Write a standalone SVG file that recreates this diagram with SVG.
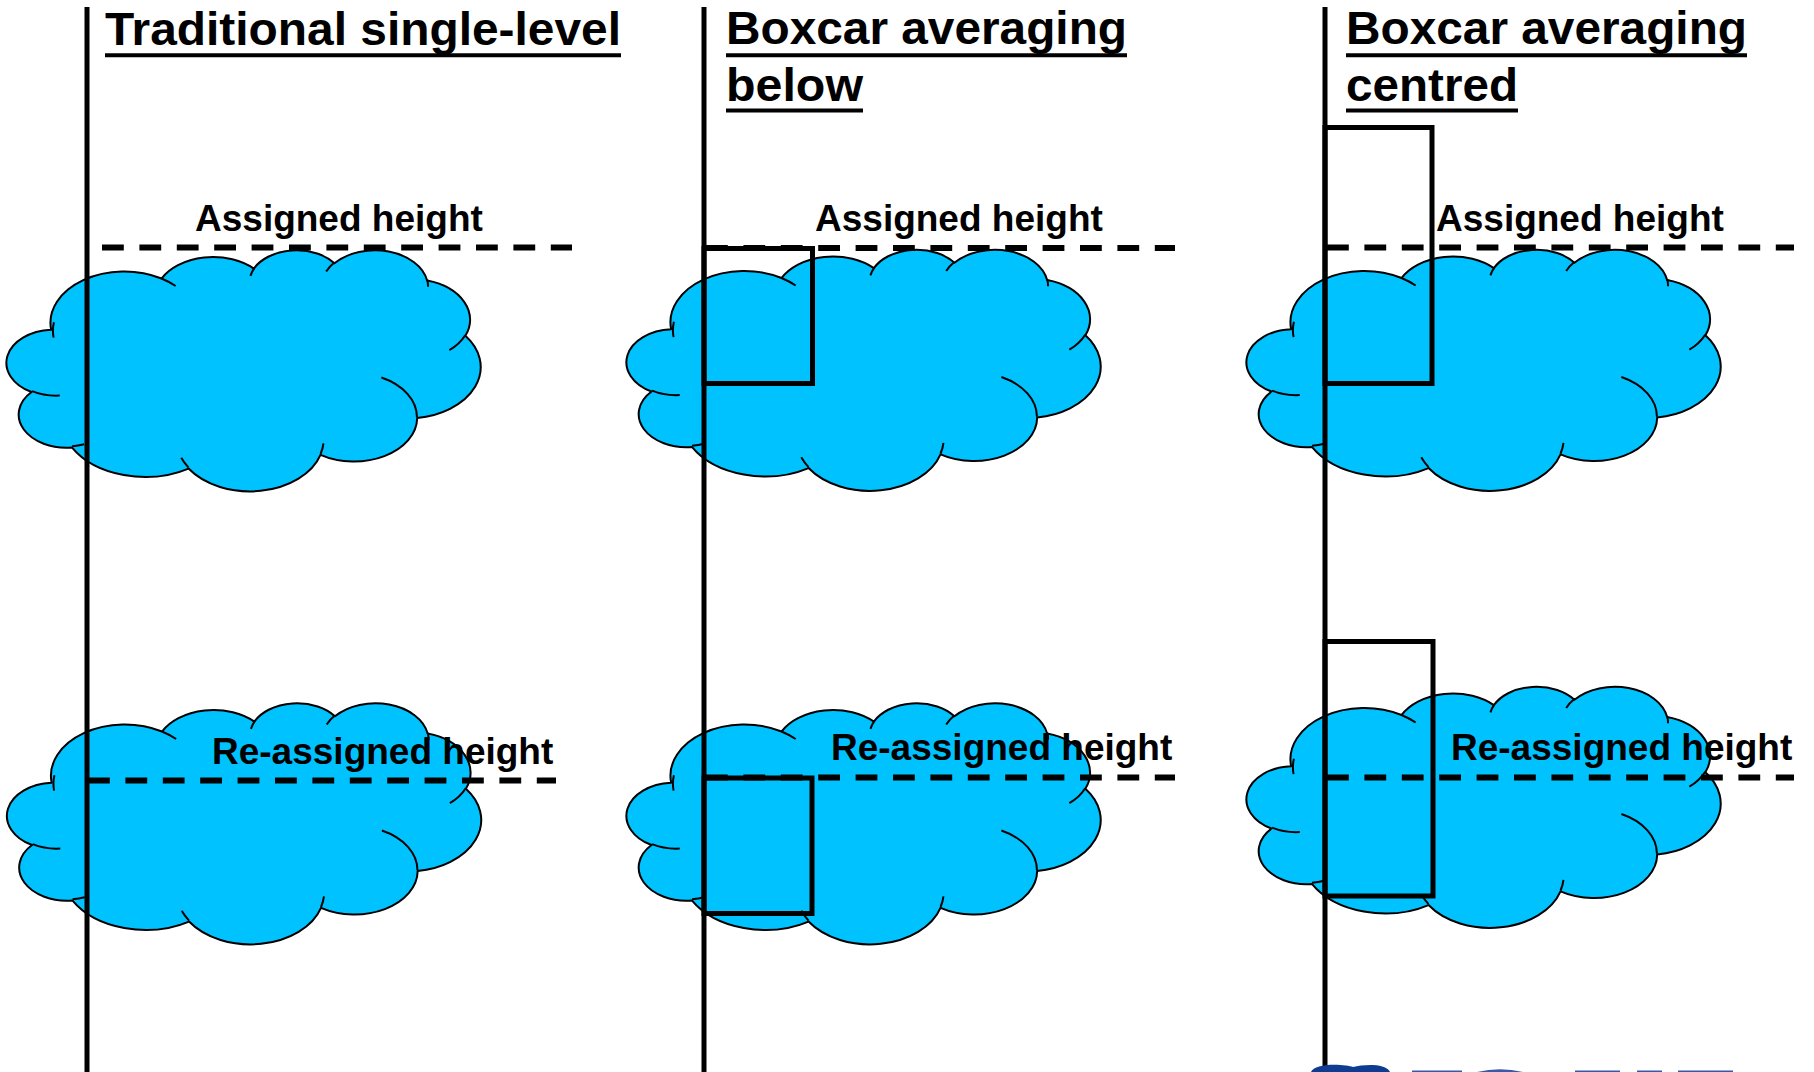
<svg xmlns="http://www.w3.org/2000/svg" width="1814" height="1072" viewBox="0 0 1814 1072">
<style>
  .cloud{fill:#00c2ff;stroke:#000;stroke-width:2;stroke-linejoin:round}
  .crease{fill:none;stroke:#000;stroke-width:2}
  .axis{stroke:#000;stroke-width:5}
  .level{stroke:#000;stroke-width:6;stroke-dasharray:21.8 15.6}
  .box{fill:none;stroke:#000;stroke-width:5}
  .title{font-family:"Liberation Sans",Arial,Helvetica,sans-serif;font-weight:bold;font-size:47px;fill:#000}
  .label{font-family:"Liberation Sans",Arial,Helvetica,sans-serif;font-weight:bold;font-size:37px;fill:#000}
  .rule{stroke:#000;stroke-width:4}
</style>
<defs>
  <!-- cloud outline built from eleven elliptical lobes, plus the short inner crease arcs -->
  <g id="cloud">
    <path class="cloud" d="M42.61 80.17 A73.78 51.27 0 0 1 153.01 29.02 A58.27 40.54 0 0 1 245.35 19.14 A47.69 33.17 0 0 1 325.95 13.83 A53.07 36.79 0 0 1 418.65 31.10 A58.27 40.57 0 0 1 456.90 86.24 A74.02 51.44 0 0 1 408.67 168.49 A63.21 43.89 0 0 1 312.00 205.37 A73.77 51.41 0 0 1 180.06 219.05 A84.35 58.82 0 0 1 63.38 197.90 A47.64 33.01 0 0 1 23.04 142.56 A47.47 33.17 0 0 1 42.61 80.17 Z"/>
    <path class="crease" d="M45.09 88.08 A73.78 51.27 0 0 1 45.42 72.76 M51.27 146.03 A47.47 33.17 0 0 1 23.60 141.58 M75.69 194.69 A47.64 33.01 0 0 1 63.58 196.82 M180.04 218.07 A73.77 51.41 0 0 1 172.74 208.36 M314.96 193.87 A73.77 51.41 0 0 1 312.05 204.51 M372.89 128.05 A63.21 43.89 0 0 1 408.41 167.86 M456.68 85.66 A58.27 40.57 0 0 1 440.85 100.59 M418.72 30.27 A53.07 36.79 0 0 1 419.55 37.31 M317.70 22.05 A53.07 36.79 0 0 1 325.81 13.05 M241.91 26.33 A47.69 33.17 0 0 1 245.83 18.58 M152.96 28.96 A73.78 51.27 0 0 1 167.16 36.48"/>
  </g>
</defs>

<rect width="1814" height="1072" fill="#fff"/>

<!-- Panel 1: traditional single-level -->
<g id="panel-single-level">
  <g id="cloud-single-upper"><use href="#cloud" transform="translate(8.5 249.5)"/></g>
  <g id="cloud-single-lower"><use href="#cloud" transform="translate(9 702.5)"/></g>
  <g id="levels-single">
    <line class="axis" x1="87" y1="7" x2="87" y2="1072"/>
    <line class="level" x1="102" y1="247.5" x2="572" y2="247.5"/>
    <line class="level" x1="88" y1="780.5" x2="556" y2="780.5"/>
  </g>
  <g id="title-single">
    <text class="title" x="105" y="44.5" textLength="516" lengthAdjust="spacingAndGlyphs">Traditional single-level</text>
    <line class="rule" x1="105" y1="55.3" x2="621" y2="55.3"/>
  </g>
  <text id="label-single-assigned" class="label" x="195" y="230.5">Assigned height</text>
  <text id="label-single-reassigned" class="label" x="212" y="763.5">Re-assigned height</text>
</g>

<!-- Panel 2: boxcar averaging below -->
<g id="panel-boxcar-below">
  <g id="cloud-below-upper"><use href="#cloud" transform="translate(628.5 249)"/></g>
  <g id="cloud-below-lower"><use href="#cloud" transform="translate(628.5 702.5)"/></g>
  <g id="levels-below">
    <line class="axis" x1="704" y1="7" x2="704" y2="1072"/>
    <line class="level" x1="706" y1="248" x2="1175" y2="248"/>
    <line class="level" x1="706" y1="777.5" x2="1175" y2="777.5"/>
  </g>
  <g id="box-below-upper"><rect class="box" x="704" y="248.5" width="108.5" height="135"/></g>
  <g id="box-below-lower"><rect class="box" x="704" y="778" width="108" height="135.5"/></g>
  <g id="title-below">
    <text class="title" x="726" y="44" textLength="401" lengthAdjust="spacingAndGlyphs">Boxcar averaging</text>
    <line class="rule" x1="726" y1="55.3" x2="1127" y2="55.3"/>
    <text class="title" x="726" y="101" textLength="137" lengthAdjust="spacingAndGlyphs">below</text>
    <line class="rule" x1="726" y1="110.5" x2="863" y2="110.5"/>
  </g>
  <text id="label-below-assigned" class="label" x="815" y="230.5">Assigned height</text>
  <text id="label-below-reassigned" class="label" x="831" y="760">Re-assigned height</text>
</g>

<!-- Panel 3: boxcar averaging centred -->
<g id="panel-boxcar-centred">
  <g id="cloud-centred-upper"><use href="#cloud" transform="translate(1248.5 249)"/></g>
  <g id="cloud-centred-lower"><use href="#cloud" transform="translate(1248.5 686)"/></g>
  <g id="levels-centred">
    <line class="axis" x1="1325" y1="7" x2="1325" y2="1072"/>
    <line class="level" x1="1327" y1="247.5" x2="1794" y2="247.5"/>
    <line class="level" x1="1327" y1="777.5" x2="1794" y2="777.5"/>
  </g>
  <g id="box-centred-upper"><rect class="box" x="1325" y="127.5" width="107" height="256"/></g>
  <g id="box-centred-lower"><rect class="box" x="1325" y="641.5" width="108" height="254.5"/></g>
  <g id="title-centred">
    <text class="title" x="1346" y="44" textLength="401" lengthAdjust="spacingAndGlyphs">Boxcar averaging</text>
    <line class="rule" x1="1346" y1="55.3" x2="1747" y2="55.3"/>
    <text class="title" x="1346" y="101" textLength="172" lengthAdjust="spacingAndGlyphs">centred</text>
    <line class="rule" x1="1346" y1="110.5" x2="1518" y2="110.5"/>
  </g>
  <text id="label-centred-assigned" class="label" x="1436" y="230.5">Assigned height</text>
  <text id="label-centred-reassigned" class="label" x="1451" y="760">Re-assigned height</text>
</g>

<!-- logo strip cut off at the bottom edge -->
<g id="logo">
  <path fill="#0f3b92" d="M1311 1072 C1313 1067 1323 1064.8 1334 1064.8 C1343 1064.8 1350 1066 1353 1067 C1358 1065.5 1366 1064.8 1373 1065 C1383 1065.5 1388 1068 1390 1072 Z"/>
  <g fill="#3a58a8">
    <rect x="1412" y="1070.5" width="50" height="1.5"/>
    <path d="M1477 1072 Q1500 1066.5 1523 1072 Z"/>
    <rect x="1575" y="1070.5" width="45" height="1.5"/>
    <rect x="1637" y="1070.5" width="25" height="1.5"/>
    <rect x="1678" y="1070.5" width="55" height="1.5"/>
  </g>
</g>
</svg>
